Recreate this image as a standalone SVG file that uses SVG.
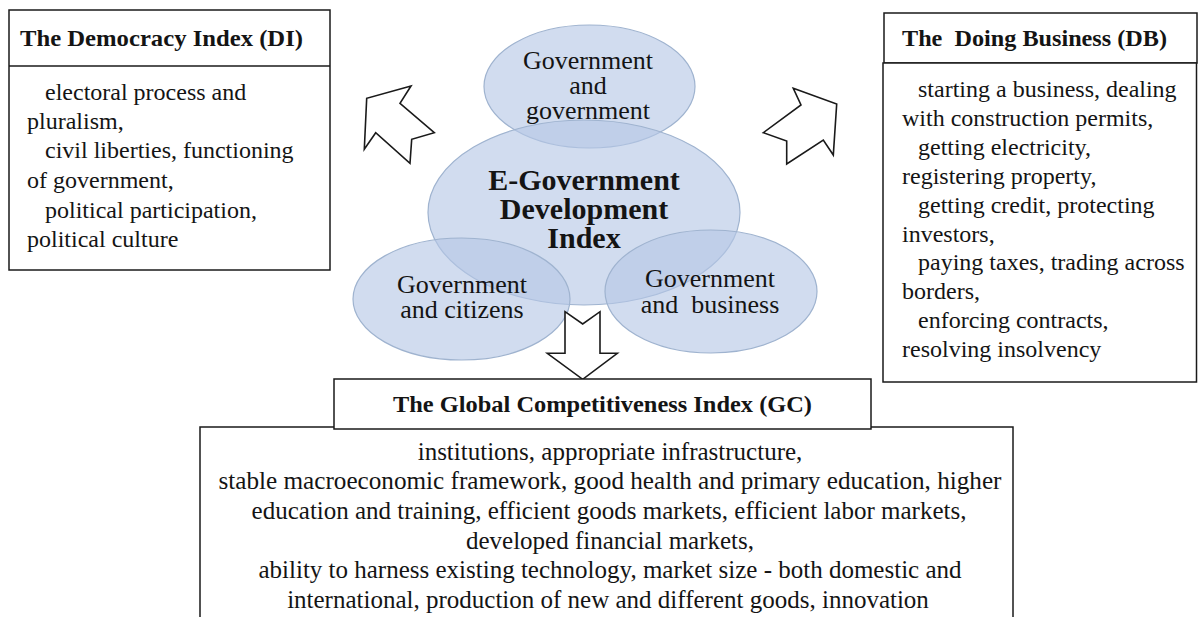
<svg xmlns="http://www.w3.org/2000/svg" width="1198" height="617" viewBox="0 0 1198 617">
<style>
  text { font-family: "Liberation Serif", "Times New Roman", serif; fill: #141414; }
  .title { font-size: 24px; font-weight: bold; }
  .body { font-size: 24px; }
  .gcb { font-size: 25px; text-anchor: middle; }
  .el { font-size: 26px; text-anchor: middle; }
  .elb { font-size: 30px; font-weight: bold; text-anchor: middle; }
  .box { fill: #ffffff; stroke: #1a1a1a; stroke-width: 1.5; }
  .ell { fill: #b4c7e5; fill-opacity: 0.62; stroke: #9fb3cf; stroke-width: 1.2; }
  .arrow { fill: #ffffff; stroke: #1a1a1a; stroke-width: 1.6; stroke-linejoin: miter; }
</style>
<rect x="0" y="0" width="1198" height="617" fill="#ffffff"/>

<g id="node-di">
  <rect class="box" x="9" y="10" width="321" height="260"/>
  <line x1="9" y1="66" x2="330" y2="66" stroke="#1a1a1a" stroke-width="1.5"/>
  <text class="title" x="20" y="46" textLength="283" lengthAdjust="spacingAndGlyphs">The Democracy Index (DI)</text>
  <text class="body" x="45" y="100">electoral process and</text>
  <text class="body" x="27" y="129">pluralism,</text>
  <text class="body" x="45" y="158">civil liberties, functioning</text>
  <text class="body" x="27" y="188">of government,</text>
  <text class="body" x="45" y="218">political participation,</text>
  <text class="body" x="27" y="247">political culture</text>
</g>

<g id="node-db">
  <rect class="box" x="884" y="13" width="313" height="50"/>
  <rect class="box" x="883" y="63" width="313.5" height="319"/>
  <text class="title" x="902" y="46" textLength="265" lengthAdjust="spacingAndGlyphs">The&#160; Doing Business (DB)</text>
  <text class="body" x="918" y="97">starting a business, dealing</text>
  <text class="body" x="902" y="126">with construction permits,</text>
  <text class="body" x="918" y="155">getting electricity,</text>
  <text class="body" x="902" y="184">registering property,</text>
  <text class="body" x="918" y="213">getting credit, protecting</text>
  <text class="body" x="902" y="242">investors,</text>
  <text class="body" x="918" y="270">paying taxes, trading across</text>
  <text class="body" x="902" y="299">borders,</text>
  <text class="body" x="918" y="328">enforcing contracts,</text>
  <text class="body" x="902" y="357">resolving insolvency</text>
</g>

<g id="node-egov">
  <ellipse class="ell" cx="589.5" cy="86.5" rx="105.5" ry="61.5"/>
  <ellipse class="ell" cx="584" cy="212.5" rx="156" ry="92.5"/>
  <ellipse class="ell" cx="461.5" cy="299" rx="108.5" ry="61"/>
  <ellipse class="ell" cx="711" cy="291.5" rx="106" ry="61.5"/>
  <text class="el" x="588" y="69">Government</text>
  <text class="el" x="588" y="94">and</text>
  <text class="el" x="588" y="119">government</text>
  <text class="elb" x="584" y="190">E-Government</text>
  <text class="elb" x="584" y="219">Development</text>
  <text class="elb" x="584" y="248">Index</text>
  <text class="el" x="462" y="293">Government</text>
  <text class="el" x="462" y="318">and citizens</text>
  <text class="el" x="710" y="287">Government</text>
  <text class="el" x="710" y="313">and&#160; business</text>
</g>

<g id="connectors">
  <polygon class="arrow" points="411,86 366.7,98.3 364.3,149.3 375.7,132.7 410,163.3 411.7,139.3 434.3,132.7 400,103.3"/>
  <polygon class="arrow" points="793.3,88.3 836.7,104 833.3,155 823.3,140 786.7,164 786.7,141 763.3,132.7 801,105"/>
  <polygon class="arrow" points="565,311.7 582.7,324 600,311.7 600,353.3 617.3,353.3 582.7,379.3 547.3,353.3 565,353.3"/>
</g>

<g id="node-gc">
  <rect class="box" x="200" y="427" width="813" height="220"/>
  <rect class="box" x="334" y="379" width="537" height="50"/>
  <text class="title" x="602.5" y="412" text-anchor="middle" textLength="419" lengthAdjust="spacingAndGlyphs">The Global Competitiveness Index (GC)</text>
  <text class="gcb" x="610" y="460">institutions, appropriate infrastructure,</text>
  <text class="gcb" x="610" y="489" textLength="783" lengthAdjust="spacingAndGlyphs">stable macroeconomic framework, good health and primary education, higher</text>
  <text class="gcb" x="609" y="519">education and training, efficient goods markets, efficient labor markets,</text>
  <text class="gcb" x="610" y="549">developed financial markets,</text>
  <text class="gcb" x="610" y="578">ability to harness existing technology, market size - both domestic and</text>
  <text class="gcb" x="608" y="608">international, production of new and different goods, innovation</text>
</g>
</svg>
